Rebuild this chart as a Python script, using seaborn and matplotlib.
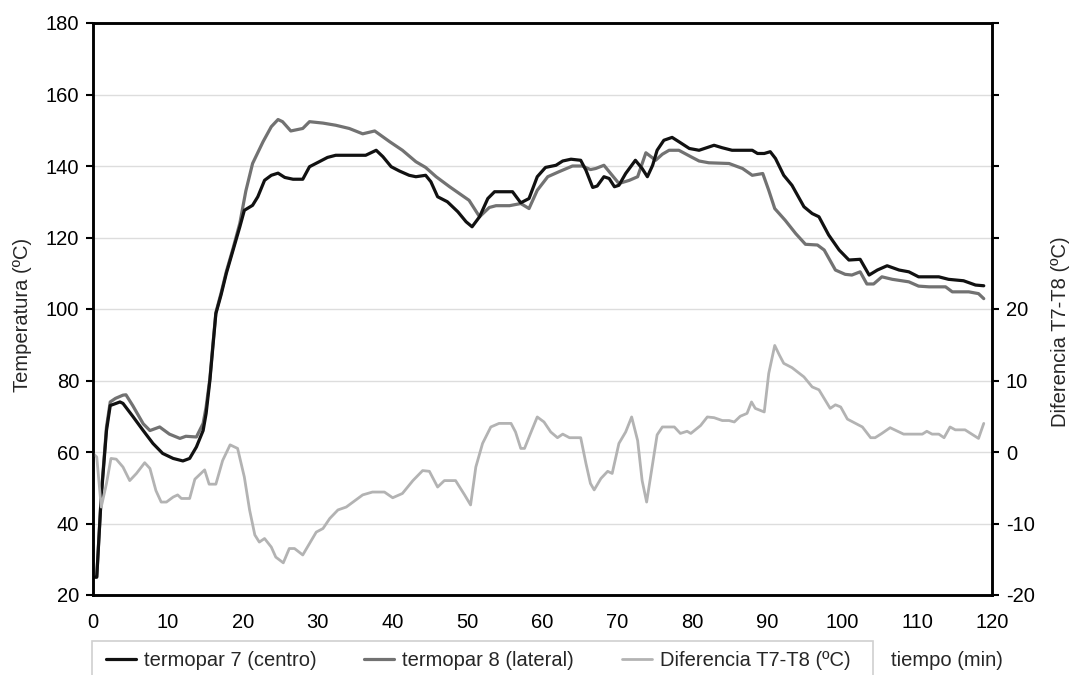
import matplotlib
matplotlib.use("Agg")
import matplotlib.pyplot as plt
from matplotlib.patches import Rectangle
import seaborn as sns
import numpy as np
import pandas as pd

# ---------------- data ----------------
t7_time = [0, 0.5, 1.1, 1.8, 2.3, 3.6, 4.0, 5.3, 6.7, 8.0, 9.3, 10.7, 12.0, 12.9, 13.8,
           14.7, 15.1, 15.6, 16.0, 16.4, 17.1, 17.8, 18.7, 19.6, 20.2, 21.3, 22.0, 22.9,
           23.8, 24.7, 25.6, 26.7, 28.0, 28.9, 30.2, 31.3, 32.4, 35.1, 36.4, 37.8, 38.7,
           39.8, 40.9, 42.2, 43.1, 44.4, 45.1, 46.0, 47.3, 48.7, 49.8, 50.6, 51.6, 52.7,
           53.6, 56.0, 57.1, 58.2, 59.3, 60.4, 61.8, 62.7, 63.8, 65.1, 65.8, 66.7, 67.3,
           68.2, 68.9, 69.6, 70.2, 71.1, 72.4, 73.3, 74.0, 74.7, 75.3, 76.2, 77.3, 78.2,
           79.6, 80.9, 82.9, 84.0, 85.3, 88.0, 88.7, 89.6, 90.4, 91.1, 92.2, 93.3, 94.9,
           96.0, 96.9, 98.2, 99.6, 100.9, 102.4, 103.6, 104.7, 106.0, 107.6, 108.9, 110.2,
           112.9, 114.2, 116.2, 117.8, 118.9]
t7_temp = [25, 25, 47.5, 66, 73, 74, 73.6, 70, 66, 62.4, 59.6, 58.2, 57.5, 58.2, 61.4,
           66, 70.8, 80, 89.4, 98.7, 104, 110, 116.5, 123, 127.6, 129, 131.4, 136,
           137.4, 138, 136.8, 136.3, 136.3, 139.8, 141.2, 142.4, 143, 143, 143, 144.4, 142.6,
           139.8, 138.6, 137.4, 137, 137.4, 135.6, 131.4, 130, 127.2, 124.4, 123, 125.8, 130.9,
           132.8, 132.8, 129.7, 130.9, 137, 139.6, 140.2, 141.4, 141.9, 141.6, 138.8, 134, 134.4,
           137, 136.5, 134.2, 134.6, 137.9, 141.6, 139.3, 137, 140.2, 144.4, 147.2, 148, 146.8,
           144.9, 144.4, 145.8, 145.1, 144.4, 144.4, 143.5, 143.5, 144, 142.1, 137.4, 134.6, 128.6,
           126.7, 125.8, 120.7, 116.5, 113.7, 113.9, 109.5, 110.9, 112.1, 110.9, 110.4, 109,
           109, 108.3, 107.9, 106.7, 106.5]

t8_time = [0, 0.5, 1.1, 1.8, 2.3, 3.0, 4.0, 4.4, 5.3, 6.7, 7.6, 8.9, 10.2, 11.6, 12.4,
           13.8, 14.7, 15.1, 15.6, 16.0, 16.4, 17.1, 17.8, 18.7, 19.6, 20.4, 21.3, 22.7,
           23.8, 24.7, 25.3, 26.4, 28.0, 28.9, 30.7, 32.4, 34.2, 36.0, 37.6, 38.4, 39.6,
           41.3, 43.1, 44.4, 45.8, 47.6, 48.9, 50.2, 51.6, 52.9, 53.8, 55.6, 57.1, 58.2,
           59.3, 60.7, 62.2, 64.0, 65.3, 66.4, 67.1, 68.2, 69.1, 70.2, 71.6, 72.7, 73.8,
           75.1, 76.0, 76.9, 78.2, 79.8, 80.9, 82.2, 84.9, 86.7, 88.0, 89.4, 90.2, 91.0,
           92.4, 93.8, 95.1, 96.7, 97.6, 99.1, 100.4, 101.3, 102.4, 103.3, 104.2, 105.3,
           106.7, 108.9, 110.2, 111.6, 113.8, 114.7, 116.9, 118.2, 118.9]
t8_temp = [25, 25, 48, 67, 74, 75, 75.9, 76, 73, 67.9, 66, 67, 65, 63.8, 64.4,
           64.2, 68, 72.6, 80.5, 90, 99, 104.5, 110.5, 117, 124, 133, 140.7, 146.8,
           151, 153, 152.4, 149.8, 150.5, 152.4, 152, 151.4, 150.5, 149, 149.8, 148.6, 146.8,
           144.4, 141.2, 139.6, 137, 134.2, 132.3, 130.4, 125.8, 128.4, 128.9, 128.9, 129.5, 128.1,
           133.2, 137, 138.4, 140, 140, 139, 139.3, 140.2, 137.9, 135.1, 136, 137, 143.7,
           141.6, 143.3, 144.4, 144.4, 142.6, 141.4, 140.9, 140.7, 139.3, 137.4, 137.9, 133.2, 128.1,
           124.8, 121.1, 118.1, 117.9, 116.5, 110.9, 109.7, 109.5, 110.4, 107, 107, 109,
           108.3, 107.6, 106.4, 106.2, 106.2, 104.8, 104.8, 104.3, 102.9]

diff_time = [0, 0.5, 1.1, 1.8, 2.4, 3.1, 4.0, 4.9, 5.8, 6.9, 7.6, 8.4, 9.1, 9.8, 10.7,
             11.3, 11.8, 12.9, 13.6, 14.9, 15.5, 16.4, 17.3, 18.3, 19.3, 20.2, 20.9, 21.6,
             22.2, 22.9, 23.8, 24.4, 25.4, 26.2, 26.9, 28.0, 28.9, 29.8, 30.7, 31.6, 32.7,
             33.8, 35.1, 36.0, 37.3, 38.9, 40.0, 41.3, 42.7, 44.0, 44.9, 46.0, 46.9, 48.4,
             49.6, 50.4, 51.1, 52.0, 53.1, 54.2, 55.8, 56.4, 57.1, 57.6, 58.4, 59.3, 60.2,
             61.1, 62.0, 62.7, 63.6, 65.1, 65.8, 66.4, 66.9, 67.8, 68.7, 69.3, 70.2, 71.1,
             71.9, 72.7, 73.3, 73.9, 74.7, 75.3, 76.0, 77.6, 78.4, 79.3, 79.8, 81.1, 82.0,
             82.9, 84.0, 84.9, 85.6, 86.4, 87.3, 87.9, 88.4, 89.6, 90.2, 91.0, 91.6, 92.2,
             93.3, 94.9, 96.0, 96.9, 98.4, 99.1, 99.8, 100.7, 101.8, 102.7, 103.8, 104.4,
             105.3, 106.4, 107.6, 108.2, 110.7, 111.3, 112.0, 112.9, 113.6, 114.4, 115.1,
             116.4, 117.3, 118.2, 118.9]
diff_val = [-0.2, -0.7, -7.7, -4.4, -0.9, -1, -2.1, -4, -3, -1.5, -2.3, -5.4, -7, -7, -6.3,
            -6, -6.5, -6.5, -3.8, -2.5, -4.5, -4.5, -1.2, 1, 0.5, -3.5, -8.1, -11.6,
            -12.6, -12.1, -13.3, -14.7, -15.5, -13.5, -13.5, -14.4, -12.8, -11.2, -10.7, -9.3, -8.1,
            -7.7, -6.7, -6, -5.6, -5.6, -6.4, -5.8, -4, -2.6, -2.7, -4.9, -4, -4,
            -6, -7.4, -2.1, 1.2, 3.5, 4, 4, 2.8, 0.5, 0.5, 2.6, 4.9, 4.2,
            2.8, 2, 2.5, 2, 2, -1.6, -4.4, -5.3, -3.7, -2.7, -3, 1.2, 2.8,
            4.9, 1.6, -4, -7, -1.6, 2.4, 3.5, 3.5, 2.6, 2.9, 2.6, 3.7, 4.9,
            4.8, 4.4, 4.4, 4.2, 5, 5.4, 7, 6.1, 5.6, 11, 14.9, 13.6, 12.4,
            11.8, 10.5, 9.1, 8.7, 6.1, 6.6, 6.3, 4.6, 4, 3.5, 2, 2,
            2.6, 3.4, 2.8, 2.5, 2.5, 2.9, 2.5, 2.5, 2, 3.5, 3.1,
            3.1, 2.5, 1.9, 4]

x_ticks = list(range(0, 121, 10))
left_ticks = list(range(20, 181, 20))
right_ticks = list(range(-20, 61, 10))
right_labels = [str(v) if v <= 20 else "" for v in right_ticks]

label_t7 = "termopar 7 (centro)"
label_t8 = "termopar 8 (lateral)"
label_diff = "Diferencia T7-T8 (ºC)"

# ---------------- styling ----------------
sns.set_style("white")
plt.rcParams["font.family"] = ["Liberation Sans", "DejaVu Sans"]
FS = 14.5
plt.rcParams["font.size"] = FS

W, H = 1073, 675
fig = plt.figure(figsize=(W / 100, H / 100), dpi=100)
ax = fig.add_axes([93 / W, 1 - 595 / H, (992 - 93) / W, (595 - 23) / H])
ax2 = ax.twinx()

c_t7 = "#111111"
c_t8 = "#727272"
c_diff = "#b3b3b3"

df7 = pd.DataFrame({"t": t7_time, "v": t7_temp})
df8 = pd.DataFrame({"t": t8_time, "v": t8_temp})
dfd = pd.DataFrame({"t": diff_time, "v": diff_val})

sns.lineplot(data=df8, x="t", y="v", ax=ax, color=c_t8, lw=2.3, label=label_t8, zorder=3)
sns.lineplot(data=df7, x="t", y="v", ax=ax, color=c_t7, lw=2.3, label=label_t7, zorder=4)
sns.lineplot(data=dfd, x="t", y="v", ax=ax2, color=c_diff, lw=2.0, label=label_diff, zorder=2)

ax.set_xlim(0, 120)
ax.set_ylim(20, 180)
ax2.set_ylim(-20, 60)
ax.set_xticks(x_ticks)
ax.set_yticks(left_ticks)
ax2.set_yticks(right_ticks)
ax2.set_yticklabels(right_labels)

ax.yaxis.grid(True, color="#dddddd", lw=1.0)
ax.set_axisbelow(True)
ax.set_xlabel("")
ax.set_ylabel("")
ax2.set_ylabel("")

for a in (ax, ax2):
    for s in a.spines.values():
        s.set_color("black")
        s.set_linewidth(1.8)
ax.tick_params(axis="both", direction="out", length=5, width=1.5, colors="black",
               labelsize=FS, pad=5)
ax.tick_params(axis="x", pad=8)
ax2.tick_params(axis="y", direction="out", length=5, width=1.5, colors="black",
                labelsize=FS, pad=5)

# axis titles
fig.text(23 / W, 1 - 315 / H, "Temperatura (ºC)", rotation=90, ha="center", va="center",
         fontsize=FS)
fig.text(1061 / W, 1 - 332 / H, "Diferencia T7-T8 (ºC)", rotation=90, ha="center",
         va="center", fontsize=FS)

# legend (frame drawn separately so it can run off the bottom edge like the reference)
h1, l1 = ax.get_legend_handles_labels()
h2, l2 = ax2.get_legend_handles_labels()
if ax.get_legend():
    ax.get_legend().remove()
if ax2.get_legend():
    ax2.get_legend().remove()
order = [l1.index(label_t7), l1.index(label_t8)]
handles = [h1[i] for i in order] + h2
labels = [l1[i] for i in order] + l2
leg = fig.legend(handles, labels, loc="center left", bbox_to_anchor=(106 / W, 1 - 661 / H),
                 ncol=3, frameon=False, borderaxespad=0, borderpad=0,
                 handlelength=1.5, handletextpad=0.4, columnspacing=2.35, fontsize=FS)
fig.patches.append(Rectangle((92 / W, 1 - 690 / H), (873 - 92) / W, (690 - 641) / H,
                             transform=fig.transFigure, fill=False, edgecolor="#d0d0d0",
                             linewidth=1.2))

fig.text(947 / W, 1 - 660 / H, "tiempo (min)", ha="center", va="center", fontsize=FS)

fig.savefig("out.png", dpi=100)
